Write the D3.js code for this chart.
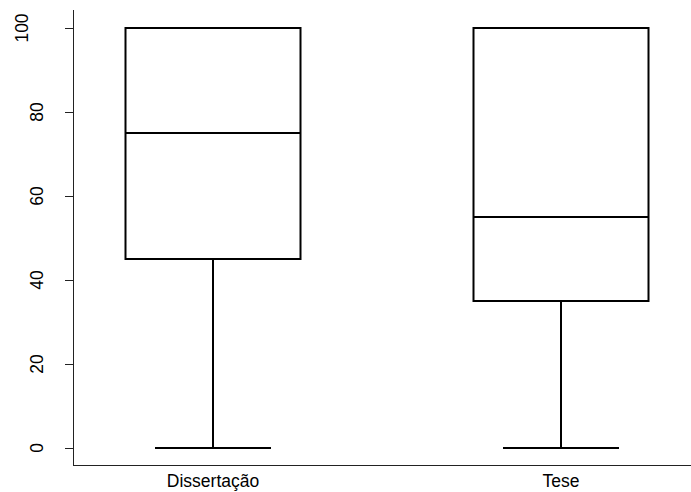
<!DOCTYPE html>
<html>
<head>
<meta charset="utf-8">
<script src="https://cdn.jsdelivr.net/npm/d3@7"></script>
<style>
  body { margin: 0; background: #fff; }
  text { font-family: "Liberation Sans", Arial, sans-serif; fill: #000; }
</style>
</head>
<body>
<div id="chart"></div>
<script>
// boxplot stats
var categories = ["Dissertação", "Tese"];
var mins = [0, 0];
var q1s = [45, 35];
var medians = [75, 55];
var q3s = [100, 100];
var maxs = [100, 100];
var yTicks = [0, 20, 40, 60, 80, 100];

var W = 691, H = 492;

var svg = d3.select("#chart").append("svg")
  .attr("width", W)
  .attr("height", H);

var data = categories.map(function (c, i) {
  return { name: c, idx: i + 1, min: mins[i], q1: q1s[i], median: medians[i], q3: q3s[i], max: maxs[i] };
});

// scales
var x = d3.scaleLinear().domain([1, 2]).range([213, 561]);
var y = d3.scaleLinear().domain([0, 100]).range([448, 28]);

var boxHalf = 87.5;
var capHalf = 58;

// left + bottom frame (L-shaped)
svg.append("line")
  .attr("x1", 73.5).attr("x2", 73.5)
  .attr("y1", 10).attr("y2", 465.5)
  .attr("stroke", "#222").attr("stroke-width", 1);
svg.append("line")
  .attr("x1", 73).attr("x2", W)
  .attr("y1", 465.5).attr("y2", 465.5)
  .attr("stroke", "#222").attr("stroke-width", 1);

// y axis ticks + rotated labels
var yAxis = svg.append("g").attr("class", "y-axis");
yAxis.selectAll("line")
  .data(yTicks)
  .enter()
  .append("line")
  .attr("x1", 65).attr("x2", 73)
  .attr("y1", function (d) { return Math.round(y(d)) + 0.5; })
  .attr("y2", function (d) { return Math.round(y(d)) + 0.5; })
  .attr("stroke", "#222");
yAxis.selectAll("text")
  .data(yTicks)
  .enter()
  .append("text")
  .attr("transform", function (d) {
    var bx = String(d).length > 2 ? 28 : 43;
    return "translate(" + bx + "," + y(d) + ") rotate(-90)";
  })
  .attr("text-anchor", "middle")
  .style("font-size", "17.5px")
  .text(function (d) { return d; });

// x labels
svg.selectAll("xLabels")
  .data(data)
  .enter()
  .append("text")
  .attr("x", function (d) { return x(d.idx); })
  .attr("y", 487)
  .attr("text-anchor", "middle")
  .style("font-size", "17.5px")
  .text(function (d) { return d.name; });

// whiskers (vertical)
svg.selectAll("vertLines")
  .data(data)
  .enter()
  .append("line")
  .attr("x1", function (d) { return x(d.idx); })
  .attr("x2", function (d) { return x(d.idx); })
  .attr("y1", function (d) { return y(d.min); })
  .attr("y2", function (d) { return y(d.q1); })
  .attr("stroke", "#000").attr("stroke-width", 2);

// whisker caps
svg.selectAll("capLines")
  .data(data.filter(function (d) { return d.min < d.q1; }))
  .enter()
  .append("line")
  .attr("x1", function (d) { return x(d.idx) - capHalf; })
  .attr("x2", function (d) { return x(d.idx) + capHalf; })
  .attr("y1", function (d) { return y(d.min); })
  .attr("y2", function (d) { return y(d.min); })
  .attr("stroke", "#000").attr("stroke-width", 2);

// boxes
svg.selectAll("boxes")
  .data(data)
  .enter()
  .append("rect")
  .attr("x", function (d) { return x(d.idx) - boxHalf; })
  .attr("y", function (d) { return y(d.q3); })
  .attr("width", boxHalf * 2)
  .attr("height", function (d) { return y(d.q1) - y(d.q3); })
  .attr("fill", "none")
  .attr("stroke", "#000").attr("stroke-width", 2);

// medians
svg.selectAll("medianLines")
  .data(data)
  .enter()
  .append("line")
  .attr("x1", function (d) { return x(d.idx) - boxHalf; })
  .attr("x2", function (d) { return x(d.idx) + boxHalf; })
  .attr("y1", function (d) { return y(d.median); })
  .attr("y2", function (d) { return y(d.median); })
  .attr("stroke", "#000").attr("stroke-width", 2);
</script>
</body>
</html>
